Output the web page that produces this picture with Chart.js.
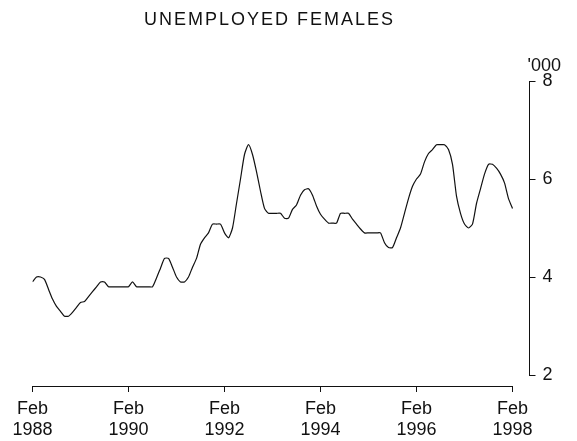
<!DOCTYPE html>
<html>
<head>
<meta charset="utf-8">
<script src="https://cdn.jsdelivr.net/npm/chart.js@4/dist/chart.umd.min.js"></script>
<style>
  body { margin: 0; background: #fff; }
  #wrap { position: relative; width: 577px; height: 441px; }
  #titulo {
    position: absolute; left: 0; top: 9px; width: 539px;
    text-align: center; font: 18px "Liberation Sans", Arial, sans-serif;
    letter-spacing: 2px; color: #111;
  }
</style>
</head>
<body>
<div id="wrap">
  <div id="titulo">UNEMPLOYED FEMALES</div>
  <canvas id="meuGrafico" width="577" height="441"></canvas>
</div>
<script>
// monthly, Feb 1988 .. Feb 1998 ('000)
const unemployedFemales = [
  3.9, 4.0, 4.0, 3.95, 3.75, 3.55, 3.4, 3.3, 3.2, 3.2,
  3.28, 3.38, 3.48, 3.5, 3.6, 3.7, 3.8, 3.9, 3.9, 3.8,
  3.8, 3.8, 3.8, 3.8, 3.8, 3.9, 3.8, 3.8, 3.8, 3.8,
  3.8, 3.98, 4.18, 4.38, 4.38, 4.2, 4.0, 3.9, 3.9, 4.0,
  4.2, 4.38, 4.67, 4.8, 4.9, 5.08, 5.08, 5.08, 4.9, 4.8,
  5.0, 5.5, 6.0, 6.5, 6.7, 6.5, 6.15, 5.75, 5.4, 5.3,
  5.3, 5.3, 5.3, 5.2, 5.2, 5.38, 5.47, 5.67, 5.78, 5.8,
  5.67, 5.45, 5.28, 5.18, 5.1, 5.1, 5.1, 5.3, 5.3, 5.3,
  5.18, 5.08, 4.98, 4.9, 4.9, 4.9, 4.9, 4.9, 4.7, 4.6,
  4.6, 4.8, 5.0, 5.3, 5.6, 5.85, 6.0, 6.1, 6.35, 6.52,
  6.6, 6.7, 6.7, 6.7, 6.6, 6.3, 5.65, 5.3, 5.08, 5.0,
  5.08, 5.5, 5.8, 6.1, 6.3, 6.3, 6.22, 6.1, 5.92, 5.6,
  5.4
];
const xTickLabels = [["Feb", "1988"], ["Feb", "1990"], ["Feb", "1992"], ["Feb", "1994"], ["Feb", "1996"], ["Feb", "1998"]];
const yTicks = [2, 4, 6, 8];
const yUnit = "'000";

const pontos = unemployedFemales.map((v, i) => ({ x: i, y: v }));
const ultimoMes = unemployedFemales.length - 1;

Chart.defaults.font.family = '"Liberation Sans", Arial, sans-serif';
Chart.defaults.color = "#111";

/* linha do eixo x (so ate Feb 1998) e a unidade do eixo y */
const eixos = {
  id: "eixos",
  afterDraw(chart) {
    const { ctx, scales } = chart;
    const xs = scales.x, ys = scales.y;
    const y = Math.round(ys.getPixelForValue(1.775)) + 0.5;
    ctx.save();
    ctx.strokeStyle = "#111";
    ctx.lineWidth = 1;
    ctx.beginPath();
    ctx.moveTo(xs.getPixelForValue(0), y);
    ctx.lineTo(xs.getPixelForValue(ultimoMes), y);
    ctx.stroke();
    ctx.fillStyle = "#111";
    ctx.font = '18px "Liberation Sans", Arial, sans-serif';
    ctx.textAlign = "left";
    ctx.textBaseline = "middle";
    ctx.fillText(yUnit, ys.left - 2, ys.top - 15);
    ctx.restore();
  }
};

const ctx = document.getElementById("meuGrafico");

new Chart(ctx, {
  type: "line",
  data: {
    datasets: [
      {
        data: pontos,
        borderColor: "#111",
        borderWidth: 1.2,
        pointRadius: 0,
        tension: 0.2,
        fill: false
      }
    ]
  },
  options: {
    responsive: false,
    animation: false,
    devicePixelRatio: 1,
    layout: { padding: { left: 32.5, right: 0, top: 81, bottom: 66 } },
    plugins: { legend: { display: false }, tooltip: { enabled: false } },
    scales: {
      x: {
        type: "linear",
        position: { y: 1.775 },
        min: 0,
        max: ultimoMes + 4.25,
        border: { display: false },
        grid: { drawOnChartArea: false, tickLength: 6, color: "#111" },
        ticks: {
          stepSize: 24,
          includeBounds: false,
          maxRotation: 0,
          autoSkip: false,
          padding: 7,
          font: { size: 18, lineHeight: 1.15 },
          callback: (v) => xTickLabels[v / 24]
        }
      },
      y: {
        position: "right",
        min: 2,
        max: 8,
        afterFit: (s) => { s.width = 47.5; },
        border: { display: true, color: "#111", width: 1 },
        grid: { drawOnChartArea: false, tickLength: 6, color: "#111" },
        afterBuildTicks: (s) => { s.ticks = yTicks.map(v => ({ value: v })); },
        ticks: { padding: 7, font: { size: 18 } }
      }
    }
  },
  plugins: [eixos]
});
</script>
</body>
</html>
